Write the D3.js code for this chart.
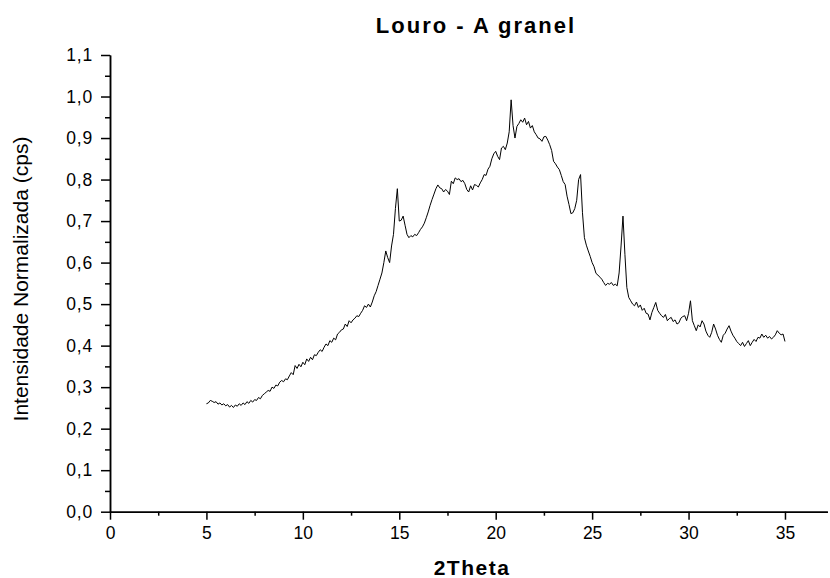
<!DOCTYPE html>
<html>
<head>
<meta charset="utf-8">
<script src="https://cdn.jsdelivr.net/npm/d3@7"></script>
<style>
  body { margin: 0; background: #fff; }
  svg { display: block; font-family: "Liberation Sans", Arial, sans-serif; }
</style>
</head>
<body>
<script>
// DATA -- 2THETA GRID (START / STEP) AND NORMALIZED INTENSITY
var thetaStart = 5.0;
var thetaStep = 0.1;
var intensity = [
  0.260, 0.262, 0.268, 0.266, 0.263, 0.265, 0.259, 0.262, 0.257, 0.260,
  0.255, 0.258, 0.252, 0.256, 0.251, 0.257, 0.254, 0.260, 0.256, 0.262,
  0.258, 0.265, 0.261, 0.268, 0.264, 0.270, 0.268, 0.275, 0.272, 0.280,
  0.284, 0.288, 0.292, 0.290, 0.300, 0.297, 0.305, 0.303, 0.312, 0.316,
  0.313, 0.320, 0.318, 0.327, 0.335, 0.330, 0.352, 0.345, 0.355, 0.349,
  0.360, 0.354, 0.368, 0.362, 0.372, 0.366, 0.378, 0.376, 0.384, 0.390,
  0.386, 0.396, 0.404, 0.400, 0.412, 0.408, 0.418, 0.414, 0.428, 0.432,
  0.438, 0.440, 0.452, 0.446, 0.460, 0.455, 0.462, 0.466, 0.472, 0.470,
  0.478, 0.485, 0.496, 0.492, 0.500, 0.493, 0.505, 0.520, 0.530, 0.545,
  0.560, 0.575, 0.600, 0.628, 0.612, 0.600, 0.640, 0.668, 0.730, 0.778,
  0.700, 0.702, 0.712, 0.690, 0.668, 0.660, 0.665, 0.662, 0.668, 0.665,
  0.672, 0.680, 0.686, 0.695, 0.708, 0.722, 0.738, 0.752, 0.765, 0.778,
  0.787, 0.780, 0.778, 0.770, 0.776, 0.772, 0.764, 0.796, 0.790, 0.804,
  0.800, 0.802, 0.795, 0.798, 0.790, 0.776, 0.770, 0.785, 0.775, 0.788,
  0.786, 0.782, 0.792, 0.800, 0.812, 0.810, 0.825, 0.832, 0.850, 0.862,
  0.868, 0.856, 0.848, 0.876, 0.880, 0.872, 0.888, 0.915, 0.992, 0.930,
  0.900, 0.928, 0.935, 0.944, 0.938, 0.948, 0.932, 0.940, 0.924, 0.930,
  0.915, 0.908, 0.900, 0.898, 0.892, 0.903, 0.904, 0.895, 0.884, 0.870,
  0.844, 0.838, 0.830, 0.824, 0.810, 0.795, 0.788, 0.760, 0.740, 0.718,
  0.720, 0.730, 0.750, 0.800, 0.812, 0.720, 0.660, 0.642, 0.628, 0.615,
  0.600, 0.590, 0.574, 0.570, 0.565, 0.560, 0.552, 0.545, 0.550, 0.548,
  0.552, 0.545, 0.548, 0.544, 0.575, 0.640, 0.712, 0.620, 0.540, 0.516,
  0.508, 0.500, 0.496, 0.505, 0.492, 0.498, 0.485, 0.490, 0.478, 0.476,
  0.462, 0.480, 0.492, 0.504, 0.485, 0.478, 0.472, 0.468, 0.475, 0.460,
  0.465, 0.468, 0.458, 0.462, 0.452, 0.455, 0.466, 0.470, 0.472, 0.460,
  0.478, 0.508, 0.460, 0.448, 0.436, 0.450, 0.445, 0.460, 0.452, 0.435,
  0.425, 0.420, 0.432, 0.452, 0.440, 0.425, 0.415, 0.408, 0.425, 0.430,
  0.440, 0.448, 0.435, 0.425, 0.418, 0.410, 0.405, 0.400, 0.408, 0.398,
  0.405, 0.412, 0.400, 0.408, 0.415, 0.410, 0.420, 0.418, 0.428, 0.420,
  0.425, 0.418, 0.422, 0.416, 0.420, 0.426, 0.436, 0.430, 0.426, 0.428,
  0.410
];

// TICK VALUES
var xTicks = [0, 5, 10, 15, 20, 25, 30, 35];
var xMinorTicks = [2.5, 7.5, 12.5, 17.5, 22.5, 27.5, 32.5];
var yTicks = [0, 0.1, 0.2, 0.3, 0.4, 0.5, 0.6, 0.7, 0.8, 0.9, 1.0, 1.1];
var yMinorTicks = [0.05, 0.15, 0.25, 0.35, 0.45, 0.55, 0.65, 0.75, 0.85, 0.95, 1.05];

// TEXTS
var title = 'Louro - A granel';
var xLabel = '2Theta';
var yLabel = 'Intensidade Normalizada (cps)';

// SETTINGS
var width = 830, height = 578;
var settings = {
   left: 110, right: 827.4, top: 55, bottom: 511.7,
   xMax: 37.2, yMax: 1.1
};

var points = intensity.map(function(v, i) {
   return { x: thetaStart + i * thetaStep, y: v };
});

var svg = d3.select('body').append('svg')
   .attr('width', width)
   .attr('height', height);

var x = d3.scaleLinear().domain([0, settings.xMax]).range([settings.left, settings.right]);
var y = d3.scaleLinear().domain([0, settings.yMax]).range([settings.bottom, settings.top]);

var comma = function(d) { return d3.format('.1f')(d).replace('.', ','); };

// X AXIS -- MAJOR
svg.append('g')
   .attr('class', 'major x')
   .attr('transform', 'translate(0,' + settings.bottom + ')')
   .call(d3.axisBottom(x).tickValues(xTicks).tickSize(8).tickPadding(7).tickSizeOuter(0));
// X AXIS -- MINOR
svg.append('g')
   .attr('transform', 'translate(0,' + settings.bottom + ')')
   .call(d3.axisBottom(x).tickValues(xMinorTicks).tickSize(4).tickFormat('').tickSizeOuter(0));

// Y AXIS -- MAJOR
svg.append('g')
   .attr('class', 'major y')
   .attr('transform', 'translate(' + settings.left + ',0)')
   .call(d3.axisLeft(y).tickValues(yTicks).tickSize(9).tickPadding(8).tickFormat(comma).tickSizeOuter(0));
// Y AXIS -- MINOR
svg.append('g')
   .attr('transform', 'translate(' + settings.left + ',0)')
   .call(d3.axisLeft(y).tickValues(yMinorTicks).tickSize(5).tickFormat('').tickSizeOuter(0));

svg.selectAll('.domain, .tick line')
   .attr('stroke', '#000')
   .attr('stroke-width', 1.5);

svg.selectAll('.tick text')
   .attr('fill', '#000')
   .style('font-size', '17.5px')
   .style('font-family', '"Liberation Sans", Arial, sans-serif');

svg.selectAll('.major.y .tick text')
   .style('letter-spacing', '0.8px');

// DATA LINE
var line = d3.line()
   .x(function(d) { return x(d.x); })
   .y(function(d) { return y(d.y); });

svg.append('path')
   .datum(points)
   .attr('fill', 'none')
   .attr('stroke', '#000')
   .attr('stroke-width', 1)
   .attr('stroke-linejoin', 'round')
   .attr('d', line);

// TITLE
svg.append('text')
   .attr('x', 476)
   .attr('y', 33)
   .attr('text-anchor', 'middle')
   .style('font-size', '22px')
   .style('font-weight', 'bold')
   .style('letter-spacing', '2px')
   .text(title);

// X LABEL
svg.append('text')
   .attr('x', 472)
   .attr('y', 575)
   .attr('text-anchor', 'middle')
   .style('font-size', '21px')
   .style('font-weight', 'bold')
   .style('letter-spacing', '1.5px')
   .text(xLabel);

// Y LABEL
svg.append('text')
   .attr('transform', 'translate(28,279) rotate(-90)')
   .attr('text-anchor', 'middle')
   .style('font-size', '21px')
   .text(yLabel);
</script>
</body>
</html>
